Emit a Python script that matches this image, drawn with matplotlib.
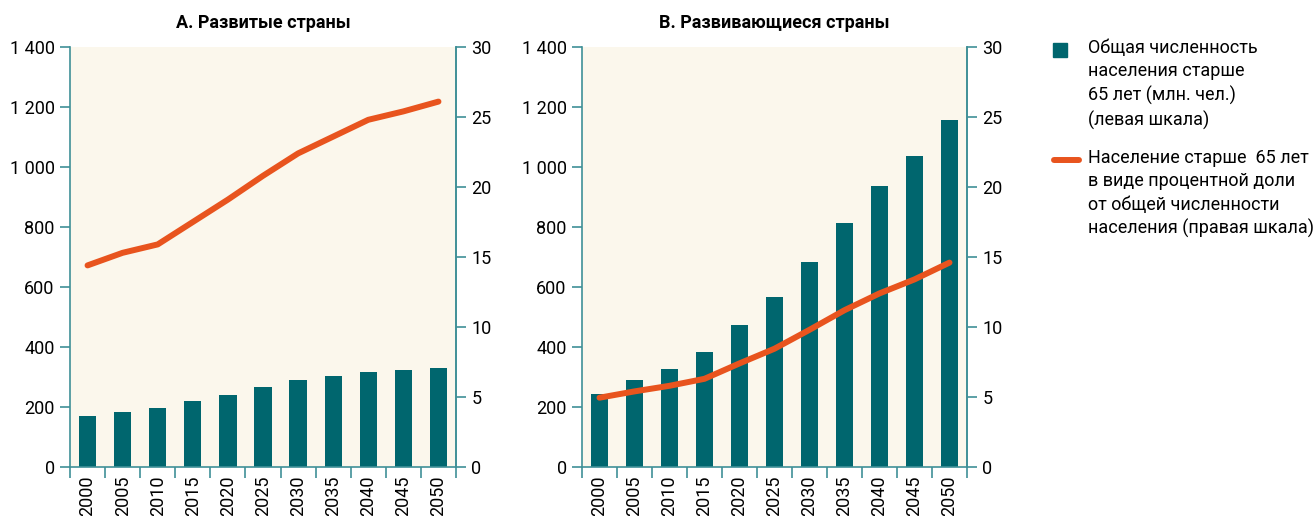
import matplotlib
matplotlib.use("Agg")
import matplotlib.pyplot as plt
import numpy as np
from matplotlib.lines import Line2D
from matplotlib.ticker import FuncFormatter, FixedLocator

plt.rcParams['font.family'] = ['Roboto', 'DejaVu Sans']

years = ['2000', '2005', '2010', '2015', '2020', '2025', '2030', '2035', '2040', '2045', '2050']

# панель A: развитые страны
dev_pop = [170, 183, 197, 220, 240, 267, 290, 303, 317, 323, 330]
dev_share = [14.4, 15.3, 15.9, 17.5, 19.1, 20.8, 22.4, 23.6, 24.8, 25.4, 26.1]

# панель B: развивающиеся страны
dvg_pop = [244, 289, 326, 382, 472, 566, 682, 812, 936, 1036, 1156]
dvg_share = [4.95, 5.4, 5.8, 6.3, 7.4, 8.45, 9.8, 11.2, 12.4, 13.4, 14.6]

titles = ['А. Развитые страны', 'В. Развивающиеся страны']
legend_bar = 'Общая численность\nнаселения старше\n65 лет (млн. чел.)\n(левая шкала)'
legend_line = 'Население старше  65 лет\nв виде процентной доли\nот общей численности\nнаселения (правая шкала)'

BAR = '#00666e'
LINE = '#e8541e'
BG = '#fbf7ec'
AX = '#3f9097'
FS = 13


def thousands(v, pos):
    v = int(v)
    if v >= 1000:
        return '%d %03d' % (v // 1000, v % 1000)
    return str(v)


def panel(rect, pop, share, title):
    ax = fig.add_axes(rect)
    x = np.arange(len(years))
    ax.bar(x, pop, width=0.49, color=BAR, zorder=2)
    ax.set_xlim(-0.5, len(years) - 0.5)
    ax.set_ylim(0, 1400)
    ax.set_facecolor(BG)
    ax.set_yticks(np.arange(0, 1401, 200))
    ax.yaxis.set_major_formatter(FuncFormatter(thousands))
    ax.set_xticks(x)
    ax.set_xticklabels(years, rotation=90, fontsize=FS)
    ax.xaxis.set_minor_locator(FixedLocator(np.arange(-0.5, len(years), 1)))
    ax.tick_params(axis='x', which='major', length=0, pad=6)
    ax.tick_params(axis='x', which='minor', length=8, width=1.2, color=AX)
    ax.tick_params(axis='y', length=7, width=1.2, color=AX, labelsize=FS, pad=4)
    ax.spines['top'].set_visible(False)
    for s in ['left', 'right', 'bottom']:
        ax.spines[s].set_color(AX)
        ax.spines[s].set_linewidth(1.2)
    ax.set_title(title, fontsize=FS, fontweight='bold', pad=14)

    ax2 = ax.twinx()
    ax2.plot(x, share, color=LINE, lw=4.3, solid_capstyle='round', zorder=3)
    ax2.set_ylim(0, 30)
    ax2.set_yticks(np.arange(0, 31, 5))
    ax2.tick_params(axis='y', length=7, width=1.2, color=AX, labelsize=FS, pad=4)
    for s in ['top', 'left', 'bottom']:
        ax2.spines[s].set_visible(False)
    ax2.spines['right'].set_color(AX)
    ax2.spines['right'].set_linewidth(1.2)
    return ax


fig = plt.figure(figsize=(13.14, 5.16), dpi=100)

panel([70 / 1314, 49 / 516, 386 / 1314, 420 / 516], dev_pop, dev_share, titles[0])
panel([582 / 1314, 49 / 516, 385 / 1314, 420 / 516], dvg_pop, dvg_share, titles[1])

# легенда справа
W, H = 1314.0, 516.0
fig.add_artist(Line2D([1060 / W], [1 - 50 / H], marker='s', markersize=10,
                      color=BAR, linestyle='none', transform=fig.transFigure))
fig.text(1088 / W, 1 - 39 / H, legend_bar, fontsize=FS, va='top', ha='left',
         linespacing=1.38)
fig.add_artist(Line2D([1054 / W, 1079 / W], [1 - 160 / H, 1 - 160 / H], color=LINE,
                      lw=4.3, solid_capstyle='round', transform=fig.transFigure))
fig.text(1088 / W, 1 - 149 / H, legend_line, fontsize=FS, va='top', ha='left',
         linespacing=1.38)

fig.savefig('out.png', dpi=100)
